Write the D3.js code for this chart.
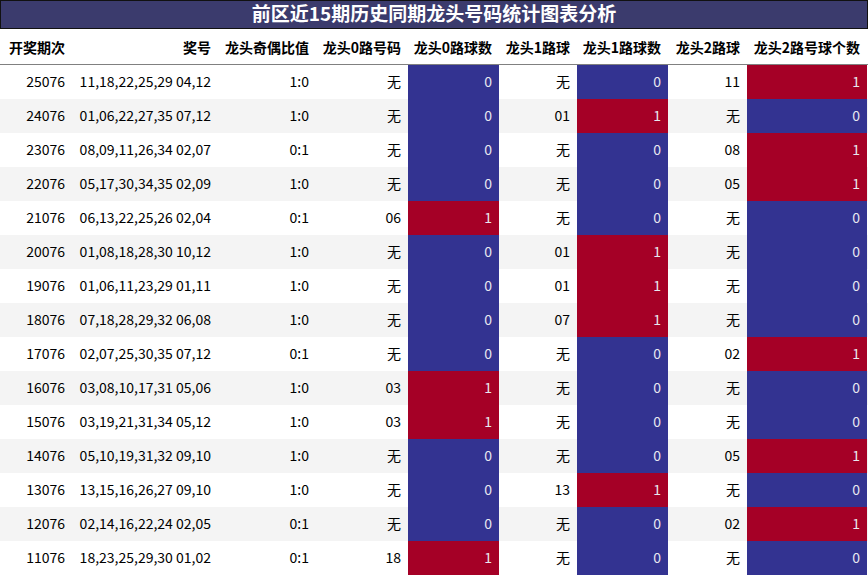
<!DOCTYPE html><html><head><meta charset="utf-8">
<script src="https://cdn.jsdelivr.net/npm/d3@7"></script>
<style>body{margin:0;background:#fff}</style></head><body><svg id="c" width="868" height="576"></svg>
<script>
const title="前区近15期历史同期龙头号码统计图表分析";
const headers=["开奖期次","奖号","龙头奇偶比值","龙头0路号码","龙头0路球数","龙头1路球","龙头1路球数","龙头2路球","龙头2路号球个数"];
const periods=["25076","24076","23076","22076","21076","20076","19076","18076","17076","16076","15076","14076","13076","12076","11076"];
const numbers=["11,18,22,25,29 04,12","01,06,22,27,35 07,12","08,09,11,26,34 02,07","05,17,30,34,35 02,09","06,13,22,25,26 02,04","01,08,18,28,30 10,12","01,06,11,23,29 01,11","07,18,28,29,32 06,08","02,07,25,30,35 07,12","03,08,10,17,31 05,06","03,19,21,31,34 05,12","05,10,19,31,32 09,10","13,15,16,26,27 09,10","02,14,16,22,24 02,05","18,23,25,29,30 01,02"];
const ratio=["1:0","1:0","0:1","1:0","0:1","1:0","1:0","1:0","0:1","1:0","1:0","1:0","1:0","0:1","0:1"];
const r0ball=["无","无","无","无","06","无","无","无","无","03","03","无","无","无","18"];
const r0cnt=[0,0,0,0,1,0,0,0,0,1,1,0,0,0,1];
const r1ball=["无","01","无","无","无","01","01","07","无","无","无","无","13","无","无"];
const r1cnt=[0,1,0,0,0,1,1,1,0,0,0,0,1,0,0];
const r2ball=["11","无","08","05","无","无","无","无","02","无","无","05","无","02","无"];
const r2cnt=[1,0,1,1,0,0,0,0,1,0,0,1,0,1,0];
const cols=[periods,numbers,ratio,r0ball,r0cnt,r1ball,r1cnt,r2ball,r2cnt];
const edges=[0,72,218,316,408,499,577,668,747,867];
const colored=[4,6,8];
const svg=d3.select("#c");
const F="'Noto Sans CJK SC','Noto Sans',sans-serif";
svg.append("rect").attr("x",0.5).attr("y",0.5).attr("width",867).attr("height",28).attr("fill","#3b3b6d").attr("stroke","#111");
svg.append("text").attr("x",434).attr("y",21).attr("text-anchor","middle").attr("fill","#fff").attr("font-family",F).attr("font-weight","bold").attr("font-size",19).text(title);
const y=d3.scaleBand().domain(d3.range(15)).range([65,575]);
headers.forEach((h,i)=>{svg.append("text").attr("x",i==0?9:edges[i+1]-7).attr("text-anchor",i==0?"start":"end").attr("y",53).attr("font-family",F).attr("font-weight","bold").attr("font-size",14).attr("fill","#000").text(h);});
svg.append("line").attr("x1",0).attr("x2",868).attr("y1",65).attr("y2",65).attr("stroke","#000");
d3.range(15).forEach(r=>{
  svg.append("rect").attr("x",0).attr("y",y(r)).attr("width",868).attr("height",y.bandwidth()).attr("fill",r%2?"#f4f4f4":"#fff");
  cols.forEach((c,i)=>{
    const v=c[r];
    let col="#000";
    if(colored.includes(i)){
      svg.append("rect").attr("x",edges[i]).attr("y",y(r)).attr("width",edges[i+1]-edges[i]).attr("height",y.bandwidth()).attr("fill",v?"#a50026":"#333391");
      col="#e8e8f0";
    }
    svg.append("text").attr("x",edges[i+1]-7).attr("y",y(r)+y.bandwidth()/2+5).attr("text-anchor","end").attr("font-family",F).attr("font-size",14).attr("fill",col).text(v);
  });
});
</script></body></html>
